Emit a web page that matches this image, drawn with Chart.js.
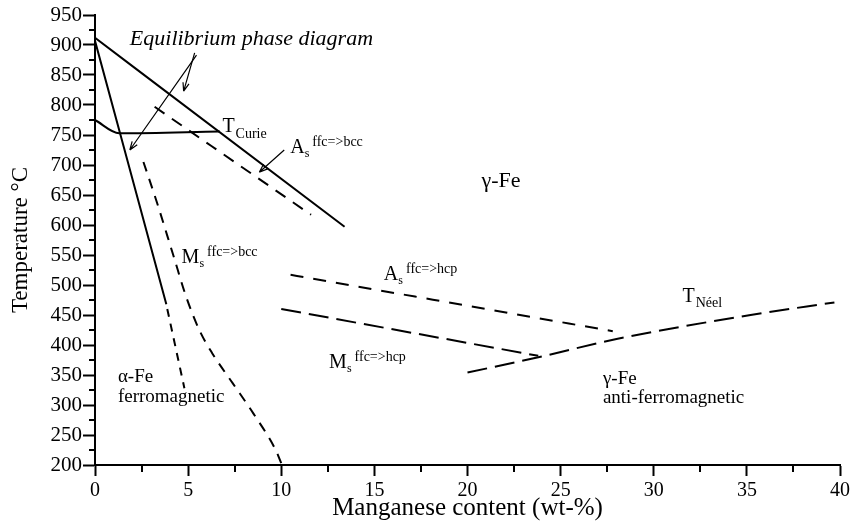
<!DOCTYPE html>
<html>
<head>
<meta charset="utf-8">
<script src="https://cdn.jsdelivr.net/npm/chart.js@4.4.1/dist/chart.umd.min.js"></script>
<style>
  html, body { margin: 0; padding: 0; background: #fff; }
  #wrap { width: 853px; height: 524px; }
</style>
</head>
<body>
<div id="wrap"><canvas id="phase"></canvas></div>
<script>
// Fe-Mn diagram: Mn content (wt-%) against temperature (degC)
const gammaSolvus    = [[0, 912], [13.4, 597]];
const alphaSolvus    = [[0, 907], [3.83, 468]];
const alphaSolvusExt = [[3.88, 460], [4.8, 328]];
const curieLine      = [[0, 775], [1.3, 753], [6.7, 756]];
const asBcc          = [[3.2, 797], [11.6, 617]];
const msBcc          = [[2.6, 705], [3.3, 640], [4.2, 550], [4.9, 480], [5.6, 425], [6.3, 386], [7.4, 336], [8.5, 286], [9.7, 225], [10, 203]];
const asHcp          = [[10.5, 517], [27.8, 423]];
const msHcp          = [[10, 460], [23.8, 382]];
const neelLine       = [[20, 354], [24, 381], [28, 410], [35.2, 450], [39.7, 471]];

const xTicks = [0, 5, 10, 15, 20, 25, 30, 35, 40];
const yTicks = [200, 250, 300, 350, 400, 450, 500, 550, 600, 650, 700, 750, 800, 850, 900, 950];
const xMinor = [2.5, 7.5, 12.5, 17.5, 22.5, 27.5, 32.5, 37.5];
const yMinor = [225, 275, 325, 375, 425, 475, 525, 575, 625, 675, 725, 775, 825, 875, 925];

const SERIF = "'Liberation Serif', 'Times New Roman', serif";

// text labels, placed in data units
const labels = [
  { x: 1.87, y: 900, parts: [{ t: 'Equilibrium phase diagram', size: 22, style: 'italic' }] },
  { x: 6.84, y: 755, parts: [{ t: 'T', size: 20 }, { t: 'Curie', size: 14, dy: 6, dx: 1 }] },
  { x: 10.48, y: 720, parts: [{ t: 'A', size: 20 }, { t: 's', size: 12, dy: 4 }, { t: 'ffc=>bcc', size: 14, dy: -7, dx: 3 }] },
  { x: 4.65, y: 537, parts: [{ t: 'M', size: 20 }, { t: 's', size: 12, dy: 4 }, { t: 'ffc=>bcc', size: 14, dy: -7, dx: 3 }] },
  { x: 15.51, y: 508, parts: [{ t: 'A', size: 20 }, { t: 's', size: 12, dy: 4 }, { t: 'ffc=>hcp', size: 14, dy: -7, dx: 3 }] },
  { x: 12.57, y: 362, parts: [{ t: 'M', size: 20 }, { t: 's', size: 12, dy: 4 }, { t: 'ffc=>hcp', size: 14, dy: -7, dx: 3 }] },
  { x: 31.54, y: 472, parts: [{ t: 'T', size: 20 }, { t: 'Néel', size: 14, dy: 5, dx: 1 }] },
  { x: 20.75, y: 663, parts: [{ t: 'γ-Fe', size: 22 }] },
  { x: 27.27, y: 335, parts: [{ t: 'γ-Fe', size: 19 }] },
  { x: 27.27, y: 303, parts: [{ t: 'anti-ferromagnetic', size: 19 }] },
  { x: 1.23, y: 338, parts: [{ t: 'α-Fe', size: 19 }] },
  { x: 1.23, y: 305, parts: [{ t: 'ferromagnetic', size: 19 }] }
];

// pointer arrows [from, to]
const arrows = [
  [[5.35, 887], [4.76, 823]],
  [[5.45, 883], [1.87, 725]],
  [[10.16, 725], [8.82, 688]]
];

const pts = a => a.map(([x, y]) => ({ x, y }));

const line = (data, dash) => ({
  data: pts(data),
  showLine: true,
  borderColor: '#000',
  borderWidth: 2,
  borderDash: dash || [],
  pointRadius: 0,
  fill: false,
  cubicInterpolationMode: 'monotone'
});

const phaseAnnotations = {
  id: 'phaseAnnotations',
  afterDraw(chart) {
    const { ctx, scales: { x, y } } = chart;
    ctx.save();
    ctx.strokeStyle = '#000';
    ctx.fillStyle = '#000';
    ctx.lineWidth = 2;

    // minor ticks
    ctx.beginPath();
    yMinor.forEach(v => {
      const py = Math.round(y.getPixelForValue(v));
      ctx.moveTo(x.left - 6, py);
      ctx.lineTo(x.left, py);
    });
    xMinor.forEach(v => {
      const px = Math.round(x.getPixelForValue(v));
      ctx.moveTo(px, y.bottom);
      ctx.lineTo(px, y.bottom + 7);
    });
    ctx.stroke();

    // arrows
    ctx.lineWidth = 1.2;
    arrows.forEach(([a, b]) => {
      const x0 = x.getPixelForValue(a[0]), y0 = y.getPixelForValue(a[1]);
      const x1 = x.getPixelForValue(b[0]), y1 = y.getPixelForValue(b[1]);
      const ang = Math.atan2(y1 - y0, x1 - x0);
      ctx.beginPath();
      ctx.moveTo(x0, y0);
      ctx.lineTo(x1, y1);
      [0.35, -0.35].forEach(d => {
        ctx.moveTo(x1, y1);
        ctx.lineTo(x1 - 9 * Math.cos(ang + d), y1 - 9 * Math.sin(ang + d));
      });
      ctx.stroke();
    });

    // labels
    ctx.textBaseline = 'alphabetic';
    ctx.textAlign = 'left';
    labels.forEach(l => {
      let px = x.getPixelForValue(l.x);
      const py = y.getPixelForValue(l.y);
      l.parts.forEach(p => {
        ctx.font = (p.style || 'normal') + ' ' + p.size + 'px ' + SERIF;
        px += p.dx || 0;
        ctx.fillText(p.t, px, py + (p.dy || 0));
        px += ctx.measureText(p.t).width;
      });
    });
    ctx.restore();
  }
};

new Chart(document.getElementById('phase'), {
  type: 'scatter',
  data: {
    datasets: [
      line(gammaSolvus),
      line(alphaSolvus),
      line(alphaSolvusExt, [8, 7]),
      line(curieLine),
      line(asBcc, [12, 9]),
      line(msBcc, [10, 8]),
      line(asHcp, [13, 10]),
      line(msHcp, [20, 8]),
      line(neelLine, [20, 8])
    ]
  },
  options: {
    responsive: true,
    maintainAspectRatio: false,
    animation: false,
    layout: { padding: { top: 15, right: 10, left: 0, bottom: 0 } },
    plugins: { legend: { display: false }, tooltip: { enabled: false } },
    scales: {
      x: {
        type: 'linear',
        min: 0,
        max: 40,
        afterBuildTicks: s => { s.ticks = xTicks.map(v => ({ value: v })); },
        afterFit: s => { s.height = 59; },
        border: { display: true, color: '#000', width: 2 },
        grid: { drawOnChartArea: false, color: '#000', tickLength: 11, tickWidth: 2 },
        ticks: { color: '#000', padding: 3, maxRotation: 0, font: { family: SERIF, size: 20 } },
        title: {
          display: true,
          text: 'Manganese content (wt-%)',
          color: '#000',
          font: { family: SERIF, size: 25 },
          padding: { top: 0, bottom: 1 }
        }
      },
      y: {
        type: 'linear',
        min: 200,
        max: 950,
        afterBuildTicks: s => { s.ticks = yTicks.map(v => ({ value: v })); },
        afterFit: s => { s.width = 95; },
        border: { display: true, color: '#000', width: 2 },
        grid: { drawOnChartArea: false, color: '#000', tickLength: 12, tickWidth: 2 },
        ticks: { color: '#000', padding: 1, font: { family: SERIF, size: 21 } },
        title: {
          display: true,
          text: 'Temperature °C',
          color: '#000',
          font: { family: SERIF, size: 23 },
          padding: { top: 7, bottom: 0 }
        }
      }
    }
  },
  plugins: [phaseAnnotations]
});
</script>
</body>
</html>
